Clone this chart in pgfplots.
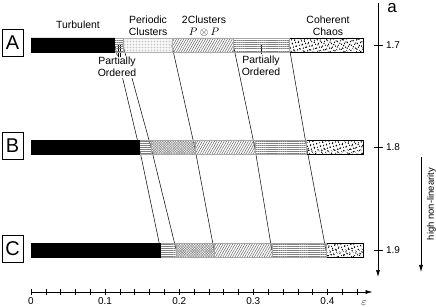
\documentclass[border=0pt]{standalone}
\usepackage{pgfplots}
\pgfplotsset{compat=1.18}
\usepackage{fontspec}
\setmainfont{Liberation Sans}
\usetikzlibrary{arrows.meta,patterns.meta}

\pgfplotsset{
  frame/.style={scale only axis, width=436bp, height=307bp,
    xmin=-0.04184, xmax=0.54656, ymin=1.65610, ymax=1.95561,
    y dir=reverse, hide axis, clip=false, at={(0,0)}, anchor=south west},
}
\newcommand{\lbl}{\fontsize{10.5}{12}\selectfont}

\begin{document}
\begin{tikzpicture}
\useasboundingbox (0,0) rectangle (436bp,307bp);
% connecting lines between phase boundaries
\begin{axis}[frame]
\addplot[black, mark=none, line width=0.5bp] coordinates {(0.113,1.7) (0.146,1.8) (0.175,1.9)};
\addplot[black, mark=none, line width=0.5bp] coordinates {(0.124,1.7) (0.162,1.8) (0.196,1.9)};
\addplot[black, mark=none, line width=0.5bp] coordinates {(0.190,1.7) (0.221,1.8) (0.247,1.9)};
\addplot[black, mark=none, line width=0.5bp] coordinates {(0.273,1.7) (0.302,1.8) (0.325,1.9)};
\addplot[black, mark=none, line width=0.5bp] coordinates {(0.348,1.7) (0.372,1.8) (0.398,1.9)};
\end{axis}
% stacked phase bars
\begin{axis}[frame, xbar stacked, bar width=14bp]
\addplot[fill=black, draw=black, line width=0.5bp] coordinates {(0.113,1.7) (0.146,1.8) (0.175,1.9)};
\addplot[draw=gray!70, line width=0.5bp, pattern={Lines[angle=0,distance=2.1bp,line width=0.45bp]}, pattern color=gray] coordinates {(0.011,1.7) (0.016,1.8) (0.021,1.9)};
\addplot[draw=gray!60, line width=0.5bp, pattern={Dots[distance=1.5bp,radius=0.3bp]}, pattern color=gray!70] coordinates {(0.066,1.7) (0,1.8) (0,1.9)};
\addplot[draw=gray!70, line width=0.5bp, pattern={Hatch[angle=45,distance=1.8bp,line width=0.5bp]}, pattern color=gray!90] coordinates {(0,1.7) (0.059,1.8) (0.051,1.9)};
\addplot[draw=gray!70, line width=0.5bp, pattern={Lines[angle=60,distance=2.1bp,line width=0.5bp]}, pattern color=gray!80!black] coordinates {(0.083,1.7) (0.081,1.8) (0.078,1.9)};
\addplot[draw=gray!70, line width=0.5bp, pattern={Lines[angle=0,distance=2.1bp,line width=0.45bp]}, pattern color=gray] coordinates {(0.075,1.7) (0.070,1.8) (0.073,1.9)};
\addplot[draw=black, line width=0.6bp, pattern={Dots[distance=3.6bp,radius=0.8bp,angle=17]}, pattern color=black,
  postaction={pattern={Dots[distance=4.4bp,radius=0.75bp,angle=-33,xshift=1.3bp,yshift=0.9bp]}, pattern color=black}] coordinates {(0.101,1.7) (0.077,1.8) (0.051,1.9)};
% labels
\node[font=\lbl] at (axis cs:0.0634,1.6805) {Turbulent};
\node[font=\lbl, align=center] at (axis cs:0.158,1.6815) {Periodic\\Clusters};
\node[font=\lbl, align=center] at (axis cs:0.2335,1.6815) {2Clusters\\$P\otimes P$};
\node[font=\lbl, align=center] at (axis cs:0.4008,1.6815) {Coherent\\Chaos};
\draw[line width=0.5bp] (axis cs:0.1178,1.7) -- (axis cs:0.1178,1.712);
\draw[line width=0.5bp] (axis cs:0.1211,1.7) -- (axis cs:0.1211,1.712);
\draw[line width=0.5bp] (axis cs:0.3104,1.7) -- (axis cs:0.3104,1.709);
\node[font=\lbl, align=center, fill=white, inner sep=1bp] at (axis cs:0.116,1.7215) {Partially\\Ordered};
\node[font=\lbl, align=center, fill=white, inner sep=1bp] at (axis cs:0.3104,1.7205) {Partially\\Ordered};
\node[draw, line width=0.6bp, minimum width=21bp, minimum height=27bp, inner sep=0pt, font=\fontsize{20}{20}\selectfont] at (axis cs:-0.025,1.698) {A};
\node[draw, line width=0.6bp, minimum width=21bp, minimum height=27bp, inner sep=0pt, font=\fontsize{20}{20}\selectfont] at (axis cs:-0.025,1.798) {B};
\node[draw, line width=0.6bp, minimum width=21bp, minimum height=27bp, inner sep=0pt, font=\fontsize{20}{20}\selectfont] at (axis cs:-0.025,1.899) {C};
\node[font=\fontsize{10.5}{12}\selectfont] at (axis cs:0.4494,1.9517) {$\varepsilon$};
\end{axis}
% horizontal epsilon axis
\begin{axis}[scale only axis, at={(31bp,15bp)}, anchor=south west,
  width=341.6bp, height=10bp, xmin=0, xmax=0.461, ymin=0, ymax=1,
  axis x line=bottom, axis y line=none,
  x axis line style={-{Latex[length=7bp,width=4bp]}, line width=0.6bp},
  xtick={0,0.1,0.2,0.3,0.4},
  minor xtick={0.02,0.04,0.06,0.08,0.12,0.14,0.16,0.18,0.22,0.24,0.26,0.28,0.32,0.34,0.36,0.38,0.42,0.44},
  tick align=center, major tick length=5bp, minor tick length=5bp,
  every tick/.style={black, line width=0.5bp},
  /pgf/number format/assume math mode=true,
  xticklabel style={font=\fontsize{10}{11}\selectfont},
]
\end{axis}
% vertical non-linearity axis
\begin{axis}[scale only axis, at={(377bp,30bp)}, anchor=south west,
  width=1bp, height=274bp, xmin=0, xmax=1, ymin=1.65903, ymax=1.92634,
  y dir=reverse, axis y line=right, axis x line=none,
  y axis line style={-{Latex[length=7bp,width=4bp]}, line width=0.6bp},
  ytick={1.7,1.8,1.9},
  tick align=center, major tick length=9bp,
  every tick/.style={black, line width=0.5bp},
  /pgf/number format/assume math mode=true,
  yticklabel style={font=\fontsize{10}{11}\selectfont},
]
\end{axis}
% decorations at the right edge
\node[font=\fontsize{17}{17}\selectfont] at (392bp,299bp) {a};
\draw[line width=0.6bp, -{Latex[length=7bp,width=4bp]}] (421bp,150bp) -- (421bp,35bp);
\node[rotate=90, font=\fontsize{9.5}{11}\selectfont] at (431.5bp,103bp) {high non-linearity};
\end{tikzpicture}
\end{document}
